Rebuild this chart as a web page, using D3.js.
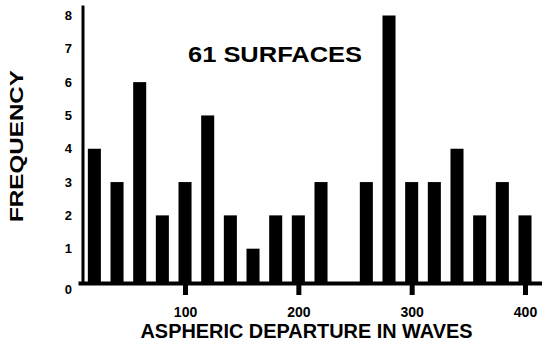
<!DOCTYPE html>
<html>
<head>
<meta charset="utf-8">
<script src="https://cdn.jsdelivr.net/npm/d3@7"></script>
<style>
  body { margin: 0; background: #fff; }
  svg { display: block; font-family: "Liberation Sans", Arial, sans-serif; }
</style>
</head>
<body>
<svg id="chart" width="551" height="356"></svg>
<script>
// bin centres (waves) and number of surfaces in each bin
var departure = [20, 40, 60, 80, 100, 120, 140, 160, 180, 200,
                 220, 240, 260, 280, 300, 320, 340, 360, 380, 400];
var frequency = [4, 3, 6, 2, 3, 5, 2, 1, 2, 2,
                 3, 0, 3, 8, 3, 3, 4, 2, 3, 2];
var xTicks = [100, 200, 300, 400];
var yTicks = [0, 1, 2, 3, 4, 5, 6, 7, 8];

var chart = d3.select("#chart");

// scales
var x = d3.scaleLinear().domain([0, 400]).range([71.7, 525]);
var y = d3.scaleLinear().domain([0, 8]).range([282, 15.5]);
var barWidth = x(11.5) - x(0);

var data = departure.map(function(d, i){
  return {x: d, y: frequency[i]};
});

// bars
chart.selectAll("rect.bar")
  .data(data.filter(function(d){ return d.y > 0; }))
  .enter().append("rect")
  .attr("class", "bar")
  .attr("x", function(d){ return x(d.x) - barWidth / 2; })
  .attr("y", function(d){ return y(d.y); })
  .attr("width", barWidth)
  .attr("height", function(d){ return y(0) - y(d.y) + 1; })
  .attr("fill", "#000");

// baseline
chart.append("line")
  .attr("x1", x(6)).attr("x2", x(415))
  .attr("y1", y(0) + 1.5).attr("y2", y(0) + 1.5)
  .attr("stroke", "#000").attr("stroke-width", 4);

// y axis line
chart.append("line")
  .attr("x1", 83).attr("x2", 83)
  .attr("y1", y(8.3)).attr("y2", y(0) + 3)
  .attr("stroke", "#000").attr("stroke-width", 3);

// x axis ticks hanging below the baseline
var xAxis = d3.axisBottom(x)
  .tickValues(xTicks)
  .tickSize(13)
  .tickPadding(10)
  .tickFormat(d3.format("d"));

var gx = chart.append("g")
  .attr("transform", "translate(0," + y(0) + ")")
  .call(xAxis);
gx.select(".domain").remove();
gx.selectAll(".tick line").attr("stroke", "#000").attr("stroke-width", 5);
gx.selectAll(".tick text")
  .attr("fill", "#000")
  .attr("y", 25)
  .style("font-size", "14px")
  .style("font-weight", "bold")
  .style("font-family", "'Liberation Sans', Arial, sans-serif");

// y axis labels
var yAxis = d3.axisLeft(y)
  .tickValues(yTicks)
  .tickSize(0)
  .tickPadding(0)
  .tickFormat(d3.format("d"));

var gy = chart.append("g")
  .attr("transform", "translate(72,0)")
  .call(yAxis);
gy.select(".domain").remove();
gy.selectAll(".tick text")
  .attr("fill", "#000")
  .style("font-size", "13px")
  .style("font-weight", "bold")
  .style("font-family", "'Liberation Sans', Arial, sans-serif");
gy.selectAll(".tick").filter(function(d){ return d === 0; })
  .select("text").attr("dy", "0.85em");

// title inside the plot
chart.append("text")
  .attr("x", 188).attr("y", 62)
  .attr("textLength", 174)
  .attr("lengthAdjust", "spacingAndGlyphs")
  .style("font-size", "22px")
  .style("font-weight", "bold")
  .text("61 SURFACES");

// axis titles
chart.append("text")
  .attr("x", 140.5).attr("y", 338)
  .attr("textLength", 332)
  .attr("lengthAdjust", "spacingAndGlyphs")
  .style("font-family", "'Liberation Sans Narrow', 'Liberation Sans', Arial, sans-serif")
  .style("font-size", "21px")
  .style("font-weight", "bold")
  .text("ASPHERIC DEPARTURE IN WAVES");

chart.append("text")
  .attr("transform", "translate(23,222) rotate(-90)")
  .attr("textLength", 152)
  .attr("lengthAdjust", "spacingAndGlyphs")
  .style("font-size", "18px")
  .style("font-weight", "bold")
  .text("FREQUENCY");
</script>
</body>
</html>
